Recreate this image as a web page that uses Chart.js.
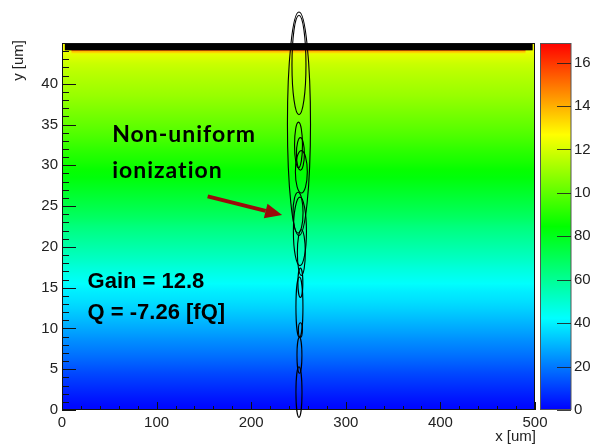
<!DOCTYPE html>
<html><head><meta charset="utf-8">
<script src="https://cdn.jsdelivr.net/npm/chart.js@4.4.0/dist/chart.umd.min.js"></script>
<style>html,body{margin:0;padding:0;background:#fff;}#wrap{width:590px;height:445px;position:relative;}</style>
</head><body><div id="wrap"><canvas id="c" width="590" height="445"></canvas></div>
<script>
// ---------- data ----------
const xTickLabels = ['0','100','200','300','400','500'];
const yTickLabels = ['0','5','10','15','20','25','30','35','40'];
const zTickLabels = ['0','20','40','60','80','100','120','140','160'];
const xRange = [0, 500];
const yRange = [0, 45];
const zRange = [0, 169];

// heat-map rows: bin centre (y, um) and value
const rowY = [0.5,1.5,2.5,3.5,4.5,5.5,6.5,7.5,8.5,9.5,10.5,11.5,12.5,13.5,14.5,15.5,16.5,17.5,18.5,19.5,20.5,21.5,22.5,23.5,24.5,25.5,26.5,27.5,28.5,29.5,30.5,31.5,32.5,33.5,34.5,35.5,36.5,37.5,38.5,39.5,40.5,41.5,42.5,43.5,44.5];
const rowValues = [1.5,4,6.6,9.3,12,15,18,20.8,23.6,26.5,29.3,32.2,35,37.5,39.5,42.5,45.5,48.5,52,55,58,61,64,68,71,74,77,80,83,85.5,88.5,91,94,97,99.5,102,104.5,107,109.5,111.5,113.5,115.5,118,122,126];

// thin high-value strip under the top electrode
const stripX0 = [10, 10];
const stripX1 = [490, 490];
const stripY0 = [43.75, 43.98];
const stripY1 = [43.98, 44.2];
const stripValues = [134, 150];

// black electrode bar at top
const barX = [3, 497.5];
const barY = [44.1, 45];

// ionization clusters (ellipses): centre x, centre y, half-width, half-height (um)
const ellCx = [250.5, 250.5, 250, 252, 253, 249.5, 251.5, 253, 252, 251, 252, 251, 250.5];
const ellCy = [42.3, 35.1, 32.5, 31.4, 29.2, 24.2, 21.9, 19.3, 15.6, 12.6, 9.8, 6.7, 2.2];
const ellRx = [7.4, 12.2, 4.2, 4.2, 6.3, 5.3, 6.9, 4.2, 2.6, 3.7, 2.1, 2.6, 3.2];
const ellRy = [6.1, 13.7, 2.8, 2.0, 2.6, 2.5, 4.2, 2.8, 1.8, 3.7, 0.9, 2.2, 3.1];

// annotations
const noteLines = ['Non-uniform', 'ionization'];
const noteX = [53, 53];
const noteY = [32.9, 28.4];
const infoLines = ['Gain = 12.8', 'Q = -7.26 [fQ]'];
const infoX = [27, 27];
const infoY = [14.9, 11.1];
const arrowFrom = [154, 26.2];
const arrowTo = [232.7, 23.9];

// ---------- palette ----------
const paletteStops = [[0,[0,0,255]],[0.25,[0,255,255]],[0.5,[0,255,0]],[0.75,[255,255,0]],[1,[255,0,0]]];
function palette(v){
  let f = (v - zRange[0])/(zRange[1]-zRange[0]);
  f = Math.max(0, Math.min(1, f));
  for (let i=1;i<paletteStops.length;i++){
    const [f1,c1] = paletteStops[i];
    const [f0,c0] = paletteStops[i-1];
    if (f <= f1){
      const t = (f-f0)/(f1-f0);
      const c = c0.map((a,k)=>Math.round(a + (c1[k]-a)*t));
      return `rgb(${c[0]},${c[1]},${c[2]})`;
    }
  }
  return 'rgb(255,0,0)';
}

const tickFont = {family:'"Liberation Sans", Arial, sans-serif', size:15};
const tickColor = '#222';

const rootPlugin = {
  id:'rootPlugin',
  beforeDatasetsDraw(chart){
    const {ctx, chartArea:ca, scales:{x,y}} = chart;
    ctx.save();
    const y0 = y.getPixelForValue(yRange[0]), y1 = y.getPixelForValue(yRange[1]);
    const g = ctx.createLinearGradient(0, y0, 0, y1);
    rowY.forEach((yy,i)=>{ g.addColorStop((yy-yRange[0])/(yRange[1]-yRange[0]), palette(rowValues[i])); });
    ctx.fillStyle = g;
    ctx.fillRect(ca.left, ca.top, ca.right-ca.left, ca.bottom-ca.top);
    stripValues.forEach((v,i)=>{
      const px0 = x.getPixelForValue(stripX0[i]), px1 = x.getPixelForValue(stripX1[i]);
      const py0 = y.getPixelForValue(stripY1[i]), py1 = y.getPixelForValue(stripY0[i]);
      ctx.fillStyle = palette(v);
      ctx.fillRect(px0, py0, px1-px0, py1-py0);
    });
    const bx0 = x.getPixelForValue(barX[0]), bx1 = x.getPixelForValue(barX[1]);
    const by0 = y.getPixelForValue(barY[1]), by1 = y.getPixelForValue(barY[0]);
    ctx.fillStyle = '#000';
    ctx.fillRect(bx0, by0, bx1-bx0, by1-by0);
    ctx.restore();
  },
  afterDatasetsDraw(chart){
    const {ctx, chartArea:ca, scales:{x,y,z}} = chart;
    ctx.save();
    ctx.strokeStyle = '#111'; ctx.lineWidth = 1;
    ctx.strokeRect(ca.left+0.5, ca.top+0.5, ca.right-ca.left-1, ca.bottom-ca.top-1);
    ctx.beginPath();
    for (let v=xRange[0]; v<=xRange[1]; v+=20){
      const px = Math.round(x.getPixelForValue(v))+0.5;
      const len = (v%100===0)?8:4;
      ctx.moveTo(px, ca.bottom); ctx.lineTo(px, ca.bottom-len);
    }
    for (let v=yRange[0]; v<=yRange[1]; v+=1){
      const py = Math.round(y.getPixelForValue(v))+0.5;
      const len = (v%5===0)?14:7;
      ctx.moveTo(ca.left, py); ctx.lineTo(ca.left+len, py);
    }
    ctx.stroke();

    ctx.strokeStyle = '#000'; ctx.lineWidth = 1.1;
    ellCx.forEach((cx,i)=>{
      const px = x.getPixelForValue(cx), py = y.getPixelForValue(ellCy[i]);
      const rx = Math.abs(x.getPixelForValue(cx+ellRx[i])-px);
      const ry = Math.abs(y.getPixelForValue(ellCy[i]+ellRy[i])-py);
      ctx.beginPath(); ctx.ellipse(px, py, rx, ry, 0, 0, Math.PI*2); ctx.stroke();
    });

    const cbL = ca.right + 5.5, cbR = ca.right + 36;
    const zb = z.getPixelForValue(zRange[0]), zt = z.getPixelForValue(zRange[1]);
    const cg = ctx.createLinearGradient(0, zb, 0, zt);
    paletteStops.forEach(([f])=>cg.addColorStop(f, palette(zRange[0]+f*(zRange[1]-zRange[0]))));
    ctx.fillStyle = cg;
    ctx.fillRect(cbL, zt, cbR-cbL, zb-zt);
    ctx.strokeStyle = '#555'; ctx.lineWidth = 1;
    ctx.strokeRect(cbL, zt+0.5, cbR-cbL, zb-zt-1);
    ctx.beginPath();
    zTickLabels.forEach(l=>{
      const py = Math.round(z.getPixelForValue(+l))+0.5;
      ctx.moveTo(cbR-14, py); ctx.lineTo(cbR, py);
    });
    ctx.strokeStyle = 'rgba(30,30,30,0.85)';
    ctx.stroke();

    ctx.fillStyle = tickColor;
    ctx.font = '15px "Liberation Sans", Arial, sans-serif';
    ctx.textAlign = 'right'; ctx.textBaseline = 'middle';
    ctx.fillText('x [um]', ca.right+1, 437);
    ctx.save();
    ctx.translate(19, ca.top-3);
    ctx.rotate(-Math.PI/2);
    ctx.textAlign = 'right';
    ctx.fillText('y [um]', 0, 0);
    ctx.restore();

    const ax0 = x.getPixelForValue(arrowFrom[0]), ay0 = y.getPixelForValue(arrowFrom[1]);
    const ax1 = x.getPixelForValue(arrowTo[0]), ay1 = y.getPixelForValue(arrowTo[1]);
    const ang = Math.atan2(ay1-ay0, ax1-ax0);
    const hl = 17, hw = 7.5;
    const bxp = ax1 - hl*Math.cos(ang), byp = ay1 - hl*Math.sin(ang);
    ctx.strokeStyle = '#9a0b0b'; ctx.fillStyle = '#9a0b0b'; ctx.lineWidth = 4;
    ctx.beginPath(); ctx.moveTo(ax0, ay0); ctx.lineTo(bxp, byp); ctx.stroke();
    ctx.beginPath();
    ctx.moveTo(ax1, ay1);
    ctx.lineTo(bxp + hw*Math.sin(ang), byp - hw*Math.cos(ang));
    ctx.lineTo(bxp - hw*Math.sin(ang), byp + hw*Math.cos(ang));
    ctx.closePath(); ctx.fill();

    ctx.fillStyle = '#000';
    ctx.textAlign = 'left'; ctx.textBaseline = 'alphabetic';
    ctx.font = 'bold 23px Lato, "DejaVu Sans", sans-serif';
    ctx.letterSpacing = '1px';
    noteLines.forEach((t,i)=>ctx.fillText(t, x.getPixelForValue(noteX[i]), y.getPixelForValue(noteY[i])));
    ctx.letterSpacing = '0px';
    ctx.font = 'bold 22px "Liberation Sans", Arial, sans-serif';
    infoLines.forEach((t,i)=>ctx.fillText(t, x.getPixelForValue(infoX[i]), y.getPixelForValue(infoY[i])));
    ctx.restore();
  }
};

const valuesFromLabels = labels => labels.map(l=>({value:+l}));
const noPad = s => { s.paddingTop = 0; s.paddingBottom = 0; s.paddingLeft = 0; s.paddingRight = 0; };

new Chart(document.getElementById('c'), {
  type:'scatter',
  data:{datasets:[{data:[], pointRadius:0}]},
  options:{
    responsive:false, animation:false, events:[],
    layout:{padding:{top:43, left:0, right:0, bottom:0}},
    plugins:{legend:{display:false}, tooltip:{enabled:false}},
    scales:{
      x:{type:'linear', position:'bottom', min:xRange[0], max:xRange[1],
        afterBuildTicks:s=>{s.ticks = valuesFromLabels(xTickLabels);},
        afterFit:s=>{s.height = 35; noPad(s);},
        grid:{display:false, drawTicks:false}, border:{display:false},
        ticks:{font:tickFont, color:tickColor, padding:4, autoSkip:false, maxRotation:0,
          callback:(v,i)=>xTickLabels[i]}},
      y:{type:'linear', position:'left', min:yRange[0], max:yRange[1],
        afterBuildTicks:s=>{s.ticks = valuesFromLabels(yTickLabels);},
        afterFit:s=>{s.width = 62; noPad(s);},
        grid:{display:false, drawTicks:false}, border:{display:false},
        ticks:{font:tickFont, color:tickColor, padding:4, autoSkip:false,
          callback:(v,i)=>yTickLabels[i]}},
      z:{type:'linear', position:'right', axis:'y', min:zRange[0], max:zRange[1],
        afterBuildTicks:s=>{s.ticks = valuesFromLabels(zTickLabels);},
        afterFit:s=>{s.width = 55; noPad(s);},
        grid:{display:false, drawTicks:false}, border:{display:false},
        ticks:{font:tickFont, color:tickColor, padding:39, autoSkip:false,
          callback:(v,i)=>zTickLabels[i]}}
    }
  },
  plugins:[rootPlugin]
});
</script></body></html>
